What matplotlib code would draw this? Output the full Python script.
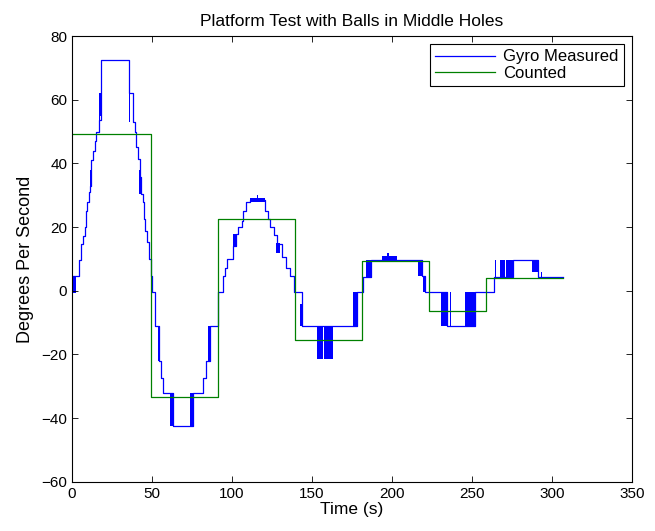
import matplotlib.pyplot as plt

# gyro reading, held between sample times (step trace)
gyro_t = [0.0, 2.5, 4.4, 5.8, 6.9, 7.9, 8.5, 9.4, 10.4, 11.0, 11.7, 13.1, 14.2,
          15.2, 16.7, 18.3, 35.4, 38.0, 39.2, 40.2, 41.2, 42.3, 42.9, 44.4,
          45.1, 45.8, 47.1, 47.9, 49.2, 50.0, 51.9, 54.4, 55.4, 57.1, 63.3,
          75.4, 82.0, 84.0, 86.3, 91.4, 94.6, 95.6, 96.7, 100.3, 102.5, 104.0,
          106.0, 107.0, 109.0, 111.0, 120.6, 122.7, 123.75, 126.0, 128.0,
          131.0, 134.0, 136.25, 138.5, 143.7, 163.3, 178.0, 181.7, 187.0,
          216.5, 218.5, 220.6, 234.2, 251.9, 263.5, 275.8, 291.5, 307.0]
gyro_v = [4.7, 4.7, 9.7, 14.7, 17.3, 19.9, 25.2, 27.8, 31.0, 33.0, 41.0, 44.0,
          47.0, 49.9, 53.5, 72.4, 62.0, 53.0, 49.9, 45.0, 41.5, 35.7, 30.4,
          27.8, 22.5, 18.9, 15.2, 10.0, 4.7, -0.5, -11.0, -22.0, -27.3, -32.0,
          -42.5, -32.0, -27.3, -22.0, -11.0, -0.5, 4.7, 7.3, 10.0, 14.2, 17.8,
          20.0, 22.0, 25.0, 27.8, 28.5, 25.0, 22.6, 20.0, 17.5, 14.7, 10.5,
          7.3, 4.7, -0.5, -11.0, -11.0, -0.5, 4.3, 9.8, 9.8, 4.7, -0.5, -11.0,
          -0.5, 4.2, 9.7, 4.2, 4.2]

# spans where the reading flickers between two levels: (t0, t1, low, high)
flicker = [(0.0, 2.5, -0.8, 4.7), (11.0, 11.9, 33.0, 38.0),
           (16.9, 17.3, 53.5, 62.0), (17.7, 18.0, 55.0, 62.0),
           (35.8, 36.1, 53.0, 62.0), (36.6, 37.1, 53.0, 60.0),
           (42.0, 43.0, 30.4, 38.0), (49.2, 50.0, -0.5, 4.7),
           (53.8, 54.7, -22.0, -11.0), (61.3, 63.3, -42.5, -32.0),
           (73.8, 75.4, -42.5, -32.0), (85.0, 86.3, -22.0, -11.0),
           (100.3, 102.5, 14.2, 17.8), (111.0, 120.6, 27.8, 29.1),
           (115.5, 116.5, 27.8, 30.0), (127.5, 130.0, 12.0, 15.0),
           (142.5, 143.7, -11.0, -4.0), (152.9, 156.9, -21.5, -11.0),
           (157.2, 163.3, -21.5, -11.0), (175.8, 178.0, -11.0, -0.5),
           (184.0, 187.0, 4.3, 9.8), (194.0, 203.0, 9.8, 10.8),
           (197.0, 198.0, 9.8, 11.8), (216.5, 218.5, 4.7, 9.8),
           (219.5, 220.6, -0.5, 4.7), (230.6, 234.2, -11.0, -0.5),
           (236.4, 236.9, -11.0, -0.5), (245.6, 251.9, -11.0, -0.5),
           (264.2, 264.7, 4.2, 9.7), (267.5, 270.5, 4.2, 9.7),
           (271.5, 275.8, 4.2, 9.7), (287.3, 291.5, 6.0, 9.7),
           (293.2, 294.0, 4.2, 6.0)]

# counted rate: level held between successive edges
count_edges = [0.0, 49.3, 91.3, 139.4, 181.2, 223.3, 259.0, 307.0]
count_levels = [49.2, -33.4, 22.6, -15.5, 9.3, -6.4, 4.0]

plt.rcParams['font.family'] = ['Liberation Sans', 'DejaVu Sans']

fig = plt.figure(figsize=(6.55, 5.31), dpi=100)
ax = fig.add_axes([0.110, 0.0925, 0.855, 0.8397])

ax.plot(gyro_t, gyro_v, color='#0000ff', lw=0.9, drawstyle='steps-post',
        label='Gyro Measured')
for t0, t1, lo, hi in flicker:
    ax.fill_between([t0, t1], [lo, lo], [hi, hi], color='#0000ff', lw=0)

ax.plot(count_edges, count_levels + count_levels[-1:], color='#008000', lw=0.9,
        drawstyle='steps-post', label='Counted')

ax.set_xlim(0, 350)
ax.set_ylim(-60, 80)
ax.set_xticks(range(0, 351, 50))
ax.set_yticks(range(-60, 81, 20))
ax.tick_params(direction='in', top=True, right=True, labelsize=11, length=4,
               width=0.6)
for s in ax.spines.values():
    s.set_linewidth(0.8)

ax.set_title('Platform Test with Balls in Middle Holes', fontsize=12.5, pad=7)
ax.set_xlabel('Time (s)', fontsize=12.5, labelpad=1)
ax.set_ylabel('Degrees Per Second', fontsize=13, labelpad=5)

leg = ax.legend(loc='upper right', fontsize=12, fancybox=False, framealpha=1,
                edgecolor='black', borderaxespad=0.5, handlelength=3.6,
                handletextpad=0.5, borderpad=0.3, labelspacing=0.1)
leg.get_frame().set_linewidth(0.8)

fig.savefig('out.png', dpi=100)
